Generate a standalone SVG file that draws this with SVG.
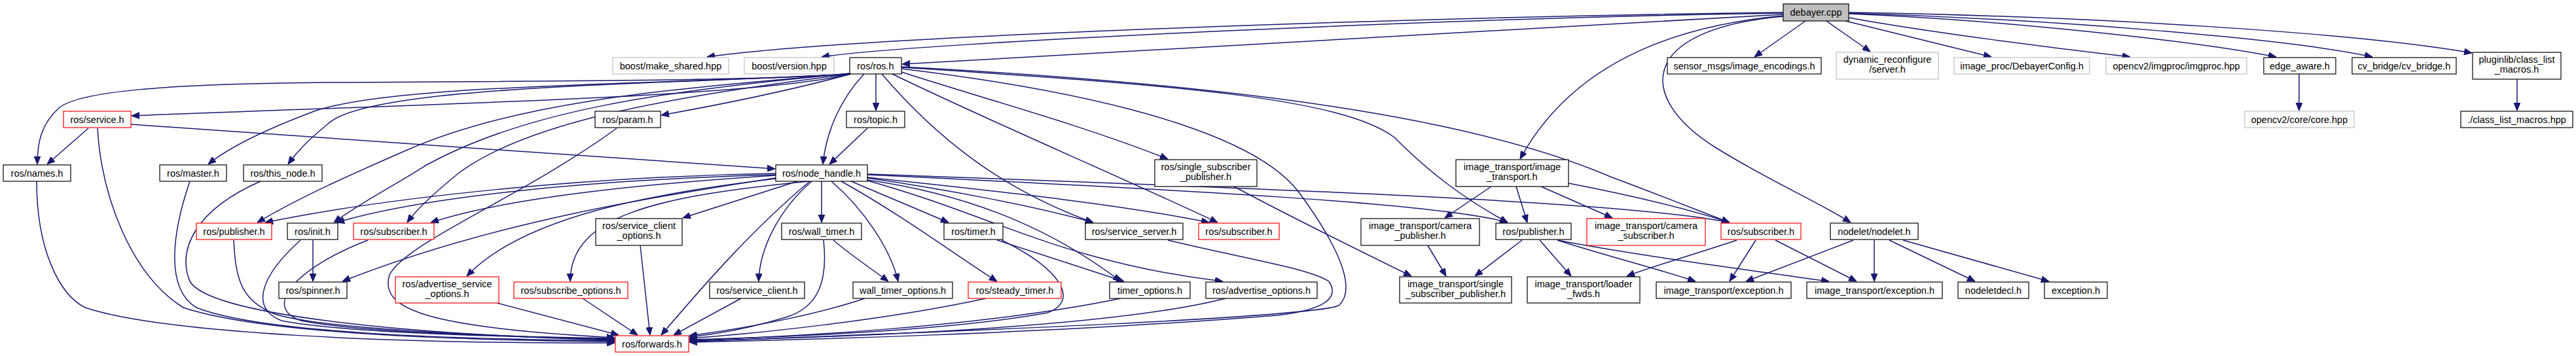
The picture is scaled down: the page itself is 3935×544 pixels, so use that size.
<svg xmlns="http://www.w3.org/2000/svg" width="3935" height="544" viewBox="0 0 3935 544">
<style>
.n rect{fill:#fff;stroke:#000;stroke-width:1.2}
.n.g rect{stroke:#bfbfbf}
.n.r rect{stroke:#ff0000}
.n.root rect{fill:#bfbfbf}
.n text{font-family:"Liberation Sans",Arial,sans-serif;font-size:14.5px;text-anchor:middle;fill:#000}
#edges path{fill:none;stroke:#191970;stroke-width:1.5;marker-end:url(#a)}
</style>
<defs>
<marker id="a" markerWidth="12" markerHeight="10" refX="12" refY="5" orient="auto" markerUnits="userSpaceOnUse"><path d="M0,0 L12,5 L0,10 z" fill="#191970" stroke="#191970"/></marker>
</defs>
<rect width="3935" height="544" fill="#fff"/>
<g id="edges">
<path d="M2724,22 C2300,45 1800,75 1378,98"/>
<path d="M2724,19 C2200,25 1300,55 1080,87"/>
<path d="M2724,20 C2200,28 1400,65 1255,87"/>
<path d="M2758,32 L2680,87"/>
<path d="M2790,32 L2857,79"/>
<path d="M2819,32 L3042,87"/>
<path d="M2824,27 C2950,50 3150,75 3254,87"/>
<path d="M2824,21 C3050,30 3350,62 3477,87"/>
<path d="M2824,20 C3150,30 3500,60 3624,87"/>
<path d="M2824,19 C3200,25 3600,50 3776,81"/>
<path d="M2724,24 C2550,40 2400,100 2322,243"/>
<path d="M2724,25 C2500,45 2500,150 2620,225 C2700,275 2780,310 2827,340"/>
<path d="M1300,113 C1150,124 800,124 500,126 C250,128 120,140 90,165 C62,190 57,220 57,251"/>
<path d="M1300,113 C1150,150 600,160 201,177"/>
<path d="M1300,113 C1000,130 600,128 480,170 C400,200 350,225 318,251"/>
<path d="M1300,113 C1000,130 560,130 500,190 C470,215 455,230 440,251"/>
<path d="M1300,113 C1200,140 1100,160 1010,176"/>
<path d="M1338,113 L1338,169"/>
<path d="M1320,113 C1285,150 1262,200 1257,251"/>
<path d="M1300,112 C1050,135 800,150 620,230 C540,265 460,300 393,340"/>
<path d="M1300,112 C1000,140 800,170 650,253 C600,285 550,310 510,340"/>
<path d="M1300,113 C1000,150 800,190 700,265 C670,290 640,315 622,340"/>
<path d="M1347,113 C1430,210 1530,290 1670,340"/>
<path d="M1363,113 C1500,180 1700,265 1860,340"/>
<path d="M1377,110 C1500,150 1650,190 1784,243"/>
<path d="M1377,103 C1800,130 2050,150 2130,210 C2180,260 2230,300 2303,340"/>
<path d="M1377,102 C1900,130 2250,180 2460,270 C2540,300 2590,320 2642,340"/>
<path d="M1377,105 C1750,150 1930,220 1985,295 C2040,370 2075,440 2045,467 C2000,485 1500,505 1053,522"/>
<path d="M1185,265 C900,270 600,300 405,340"/>
<path d="M1185,267 C900,275 650,300 514,340"/>
<path d="M1185,268 C1000,280 780,300 658,340"/>
<path d="M1185,272 C1000,300 750,340 523,430"/>
<path d="M1185,273 C1000,295 800,330 713,422"/>
<path d="M1236,277 C1000,300 871,330 871,430"/>
<path d="M1218,277 L1043,333"/>
<path d="M1237,277 C1150,350 1080,430 1010,512"/>
<path d="M1240,277 C1190,320 1160,380 1159,430"/>
<path d="M1255,277 L1255,340"/>
<path d="M1270,277 C1320,320 1360,380 1372,430"/>
<path d="M1285,277 C1380,330 1460,390 1523,430"/>
<path d="M1300,277 L1449,340"/>
<path d="M1325,275 C1500,300 1620,360 1712,430"/>
<path d="M1325,272 C1450,290 1580,315 1670,340"/>
<path d="M1325,271 C1500,290 1700,310 1847,340"/>
<path d="M1325,276 C1520,330 1620,400 1868,430"/>
<path d="M1325,267 C1800,290 2200,310 2303,340"/>
<path d="M1325,266 C2000,290 2500,310 2642,340"/>
<path d="M1325,196 L1267,251"/>
<path d="M135,196 L72,251"/>
<path d="M200,190 C500,210 900,240 1184,258"/>
<path d="M149,196 C155,300 200,420 280,470 C400,510 700,520 939,522"/>
<path d="M56,277 C56,380 90,450 130,470 C250,510 600,525 939,524"/>
<path d="M290,277 C265,350 250,440 300,470 C400,510 700,518 939,521"/>
<path d="M398,277 C300,320 270,380 290,430 C320,480 600,510 939,520"/>
<path d="M357,367 C360,430 370,460 420,480 C500,505 800,515 939,519"/>
<path d="M459,367 C400,420 380,470 430,490 C530,510 800,515 939,518"/>
<path d="M562,367 C450,410 400,470 460,490 C560,510 800,515 939,517"/>
<path d="M942,196 C800,300 620,370 595,420 C580,470 640,500 939,516"/>
<path d="M478,367 L478,430"/>
<path d="M1273,367 C1300,390 1330,410 1357,430"/>
<path d="M1258,367 C1265,430 1250,470 1200,485 C1150,500 1100,510 1053,515"/>
<path d="M978,375 L993,512"/>
<path d="M890,456 L974,512"/>
<path d="M759,463 L945,512"/>
<path d="M1132,456 L1029,512"/>
<path d="M1321,456 C1250,480 1150,500 1053,513"/>
<path d="M1506,456 C1350,490 1150,510 1053,517"/>
<path d="M1523,367 L1717,430"/>
<path d="M1530,367 C1620,410 1650,460 1600,478 C1450,505 1200,515 1053,519"/>
<path d="M1712,456 C1500,500 1200,515 1053,520"/>
<path d="M1872,456 C1700,500 1300,515 1053,521"/>
<path d="M1784,367 C1900,395 2000,410 2030,430 C2050,460 2010,475 1950,482 C1600,510 1200,520 1053,523"/>
<path d="M1885,285 C1950,320 2050,370 2156,422"/>
<path d="M2278,285 L2207,333"/>
<path d="M2316,285 L2333,340"/>
<path d="M2354,285 L2463,333"/>
<path d="M2396,280 C2500,300 2580,320 2642,340"/>
<path d="M2181,375 L2209,422"/>
<path d="M2325,367 L2253,422"/>
<path d="M2352,367 L2400,422"/>
<path d="M2379,367 C2450,390 2530,410 2590,430"/>
<path d="M2379,367 C2500,390 2650,410 2794,430"/>
<path d="M2653,367 C2600,385 2530,405 2485,422"/>
<path d="M2682,367 L2642,430"/>
<path d="M2712,367 L2836,430"/>
<path d="M2831,367 L2667,430"/>
<path d="M2863,367 L2863,430"/>
<path d="M2886,367 L3017,430"/>
<path d="M2907,367 L3130,430"/>
<path d="M3512,113 L3512,169"/>
<path d="M3845,121 L3845,169"/>
</g>
<g id="n_debayer" class="n root"><rect x="2724" y="6" width="100" height="26"/><text x="2774" y="24">debayer.cpp</text></g>
<g id="n_make_shared" class="n g"><rect x="936" y="88" width="177" height="25"/><text x="1024.5" y="105.5">boost/make_shared.hpp</text></g>
<g id="n_version" class="n g"><rect x="1137" y="88" width="137" height="25"/><text x="1205.5" y="105.5">boost/version.hpp</text></g>
<g id="n_ros" class="n"><rect x="1298" y="88" width="79" height="25"/><text x="1337.5" y="105.5">ros/ros.h</text></g>
<g id="n_sensor" class="n"><rect x="2547" y="88" width="235" height="25"/><text x="2664.5" y="105.5">sensor_msgs/image_encodings.h</text></g>
<g id="n_dynrec" class="n g"><rect x="2805" y="80" width="156" height="41"/><text x="2883" y="96">dynamic_reconfigure</text><text x="2883" y="111">/server.h</text></g>
<g id="n_debcfg" class="n g"><rect x="2985" y="88" width="207" height="25"/><text x="3088.5" y="105.5">image_proc/DebayerConfig.h</text></g>
<g id="n_imgproc" class="n g"><rect x="3217" y="88" width="215" height="25"/><text x="3324.5" y="105.5">opencv2/imgproc/imgproc.hpp</text></g>
<g id="n_edge" class="n"><rect x="3458" y="88" width="110" height="25"/><text x="3513" y="105.5">edge_aware.h</text></g>
<g id="n_cvb" class="n"><rect x="3593" y="88" width="159" height="25"/><text x="3672.5" y="105.5">cv_bridge/cv_bridge.h</text></g>
<g id="n_plugin" class="n"><rect x="3777" y="80" width="135" height="41"/><text x="3844.5" y="96">pluginlib/class_list</text><text x="3844.5" y="111">_macros.h</text></g>
<g id="n_core" class="n g"><rect x="3429" y="170" width="167" height="25"/><text x="3512.5" y="187.5">opencv2/core/core.hpp</text></g>
<g id="n_clm" class="n"><rect x="3759" y="170" width="171" height="25"/><text x="3844.5" y="187.5">./class_list_macros.hpp</text></g>
<g id="n_service" class="n r"><rect x="97" y="170" width="103" height="25"/><text x="148.5" y="187.5">ros/service.h</text></g>
<g id="n_param" class="n"><rect x="909" y="170" width="100" height="25"/><text x="959" y="187.5">ros/param.h</text></g>
<g id="n_topic" class="n"><rect x="1293" y="170" width="89" height="25"/><text x="1337.5" y="187.5">ros/topic.h</text></g>
<g id="n_names" class="n"><rect x="5" y="252" width="103" height="25"/><text x="56.5" y="269.5">ros/names.h</text></g>
<g id="n_master" class="n"><rect x="244" y="252" width="102" height="25"/><text x="295" y="269.5">ros/master.h</text></g>
<g id="n_thisnode" class="n"><rect x="372" y="252" width="120" height="25"/><text x="432" y="269.5">ros/this_node.h</text></g>
<g id="n_nh" class="n"><rect x="1185" y="252" width="140" height="25"/><text x="1255" y="269.5">ros/node_handle.h</text></g>
<g id="n_ssp" class="n"><rect x="1764" y="244" width="156" height="41"/><text x="1842" y="260">ros/single_subscriber</text><text x="1842" y="275">_publisher.h</text></g>
<g id="n_it" class="n"><rect x="2224" y="244" width="172" height="41"/><text x="2310" y="260">image_transport/image</text><text x="2310" y="275">_transport.h</text></g>
<g id="n_pub1" class="n r"><rect x="300" y="341" width="115" height="25"/><text x="357.5" y="358.5">ros/publisher.h</text></g>
<g id="n_init" class="n"><rect x="439" y="341" width="77" height="25"/><text x="477.5" y="358.5">ros/init.h</text></g>
<g id="n_sub1" class="n r"><rect x="540" y="341" width="123" height="25"/><text x="601.5" y="358.5">ros/subscriber.h</text></g>
<g id="n_sco" class="n"><rect x="910" y="334" width="132" height="41"/><text x="976" y="350">ros/service_client</text><text x="976" y="365">_options.h</text></g>
<g id="n_wt" class="n"><rect x="1194" y="341" width="122" height="25"/><text x="1255" y="358.5">ros/wall_timer.h</text></g>
<g id="n_timer" class="n"><rect x="1442" y="341" width="90" height="25"/><text x="1487" y="358.5">ros/timer.h</text></g>
<g id="n_ss" class="n"><rect x="1658" y="341" width="149" height="25"/><text x="1732.5" y="358.5">ros/service_server.h</text></g>
<g id="n_sub2" class="n r"><rect x="1831" y="341" width="123" height="25"/><text x="1892.5" y="358.5">ros/subscriber.h</text></g>
<g id="n_campub" class="n"><rect x="2079" y="334" width="181" height="41"/><text x="2169.5" y="350">image_transport/camera</text><text x="2169.5" y="365">_publisher.h</text></g>
<g id="n_pub2" class="n"><rect x="2285" y="341" width="115" height="25"/><text x="2342.5" y="358.5">ros/publisher.h</text></g>
<g id="n_camsub" class="n r"><rect x="2424" y="334" width="181" height="41"/><text x="2514.5" y="350">image_transport/camera</text><text x="2514.5" y="365">_subscriber.h</text></g>
<g id="n_sub3" class="n r"><rect x="2629" y="341" width="122" height="25"/><text x="2690" y="358.5">ros/subscriber.h</text></g>
<g id="n_nodelet" class="n"><rect x="2796" y="341" width="134" height="25"/><text x="2863" y="358.5">nodelet/nodelet.h</text></g>
<g id="n_spinner" class="n"><rect x="426" y="431" width="104" height="25"/><text x="478" y="448.5">ros/spinner.h</text></g>
<g id="n_aso" class="n r"><rect x="604" y="423" width="158" height="40"/><text x="683" y="439">ros/advertise_service</text><text x="683" y="454">_options.h</text></g>
<g id="n_subopt" class="n r"><rect x="785" y="431" width="174" height="25"/><text x="872" y="448.5">ros/subscribe_options.h</text></g>
<g id="n_sc" class="n"><rect x="1084" y="431" width="145" height="25"/><text x="1156.5" y="448.5">ros/service_client.h</text></g>
<g id="n_wto" class="n"><rect x="1303" y="431" width="152" height="25"/><text x="1379" y="448.5">wall_timer_options.h</text></g>
<g id="n_steady" class="n r"><rect x="1479" y="431" width="142" height="25"/><text x="1550" y="448.5">ros/steady_timer.h</text></g>
<g id="n_to" class="n"><rect x="1695" y="431" width="123" height="25"/><text x="1756.5" y="448.5">timer_options.h</text></g>
<g id="n_ao" class="n"><rect x="1842" y="431" width="170" height="25"/><text x="1927" y="448.5">ros/advertise_options.h</text></g>
<g id="n_itssp" class="n"><rect x="2138" y="423" width="171" height="40"/><text x="2223.5" y="439">image_transport/single</text><text x="2223.5" y="454">_subscriber_publisher.h</text></g>
<g id="n_loader" class="n"><rect x="2333" y="423" width="172" height="40"/><text x="2419" y="439">image_transport/loader</text><text x="2419" y="454">_fwds.h</text></g>
<g id="n_itex1" class="n"><rect x="2530" y="431" width="206" height="25"/><text x="2633" y="448.5">image_transport/exception.h</text></g>
<g id="n_itex2" class="n"><rect x="2760" y="431" width="207" height="25"/><text x="2863.5" y="448.5">image_transport/exception.h</text></g>
<g id="n_ndecl" class="n"><rect x="2991" y="431" width="108" height="25"/><text x="3045" y="448.5">nodeletdecl.h</text></g>
<g id="n_exc" class="n"><rect x="3123" y="431" width="96" height="25"/><text x="3171" y="448.5">exception.h</text></g>
<g id="n_fwd" class="n r"><rect x="940" y="513" width="112" height="25"/><text x="996" y="530.5">ros/forwards.h</text></g>
</svg>
